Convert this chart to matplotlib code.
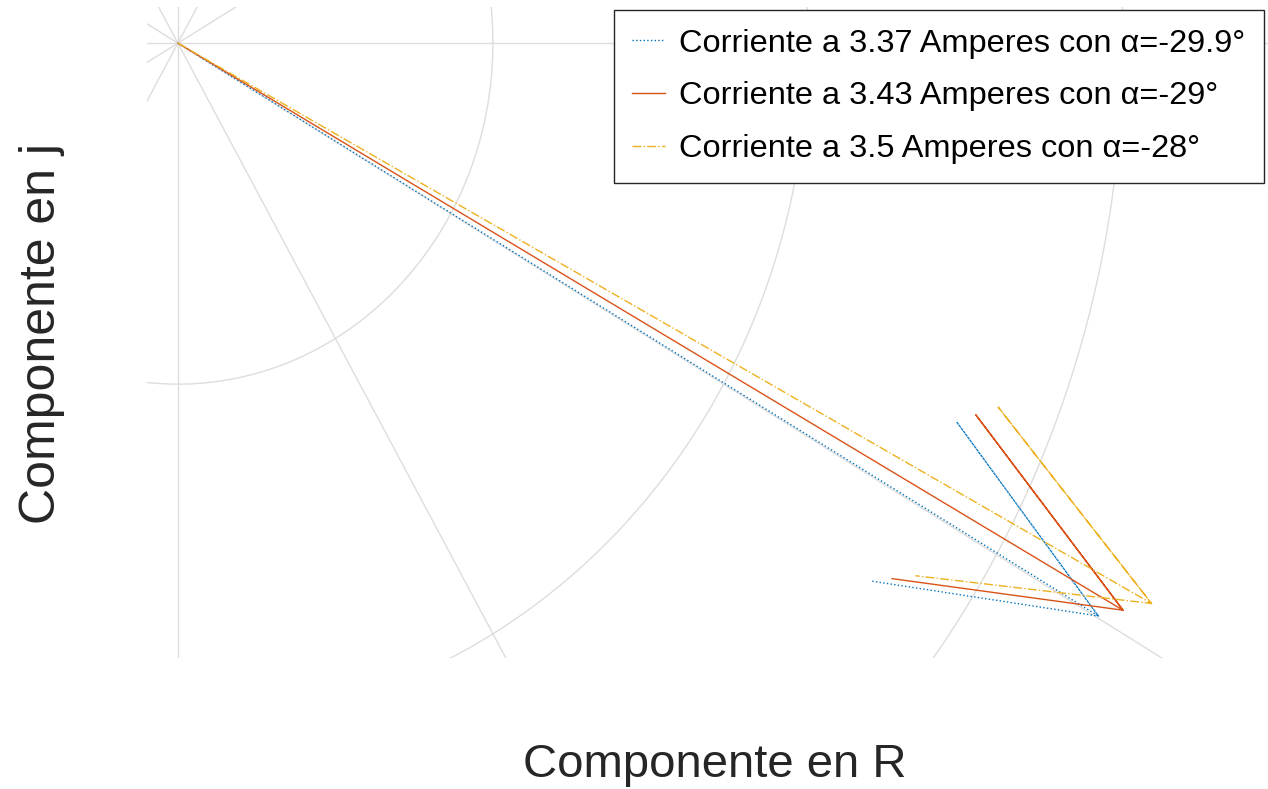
import matplotlib.pyplot as plt
import numpy as np

# corrientes (magnitud en amperes, angulo en grados)
mags = [3.37, 3.43, 3.5]
angs = [-29.9, -29.0, -28.0]
labels = ["Corriente a 3.37 Amperes con α=-29.9°",
          "Corriente a 3.43 Amperes con α=-29°",
          "Corriente a 3.5 Amperes con α=-28°"]
colores = ["#0072BD", "#D95319", "#EDB120"]
estilos = [":", "-", "-."]

plt.rcParams['font.family'] = ['Liberation Sans', 'DejaVu Sans']

fig = plt.figure(figsize=(12.68, 7.89), dpi=100)
ax = fig.add_axes([147/1268, 1-658/789, 1-147/1268, (658-7)/789])
ax.set_xlim(-0.098, 3.46)
ax.set_ylim(-1.803, 0.106)
ax.set_axis_off()

# rejilla polar estilo compass
gris = "#DDDDDD"
t = np.linspace(0, 2*np.pi, 400)
for r in [1, 2, 3, 4]:
    ax.plot(r*np.cos(t), r*np.sin(t), color=gris, lw=1.0, zorder=1)
for a in np.arange(0, 360, 30):
    th = np.deg2rad(a)
    ax.plot([0, 5*np.cos(th)], [0, 5*np.sin(th)], color=gris, lw=1.0, zorder=1)

# flechas: misma forma que compass de matlab
flecha = np.array([0, 1, 0.8+0.08j, 1, 0.8-0.08j])
for m, a, lab, c, ls in zip(mags, angs, labels, colores, estilos):
    z = flecha * m * np.exp(1j*np.deg2rad(a))
    ax.plot(z.real, z.imag, color=c, ls=ls, lw=1.0, label=lab, zorder=3)

leg = ax.legend(loc='upper right', bbox_to_anchor=(1264/1268, 1-10/789),
                bbox_transform=fig.transFigure, borderaxespad=0,
                fontsize=23.4, fancybox=False, framealpha=1,
                edgecolor='#262626', handlelength=1.0, handletextpad=0.45,
                borderpad=0.57, labelspacing=0.7)
leg.get_frame().set_linewidth(1.0)

fig.text(715/1268, 1-777/789, "Componente en R", fontsize=34,
         color='#262626', ha='center', va='baseline')
fig.text(55/1268, 1-334/789, "Componente en j", fontsize=36,
         color='#262626', ha='center', va='baseline', rotation=90,
         rotation_mode='anchor')

fig.savefig("out.png", dpi=100)
